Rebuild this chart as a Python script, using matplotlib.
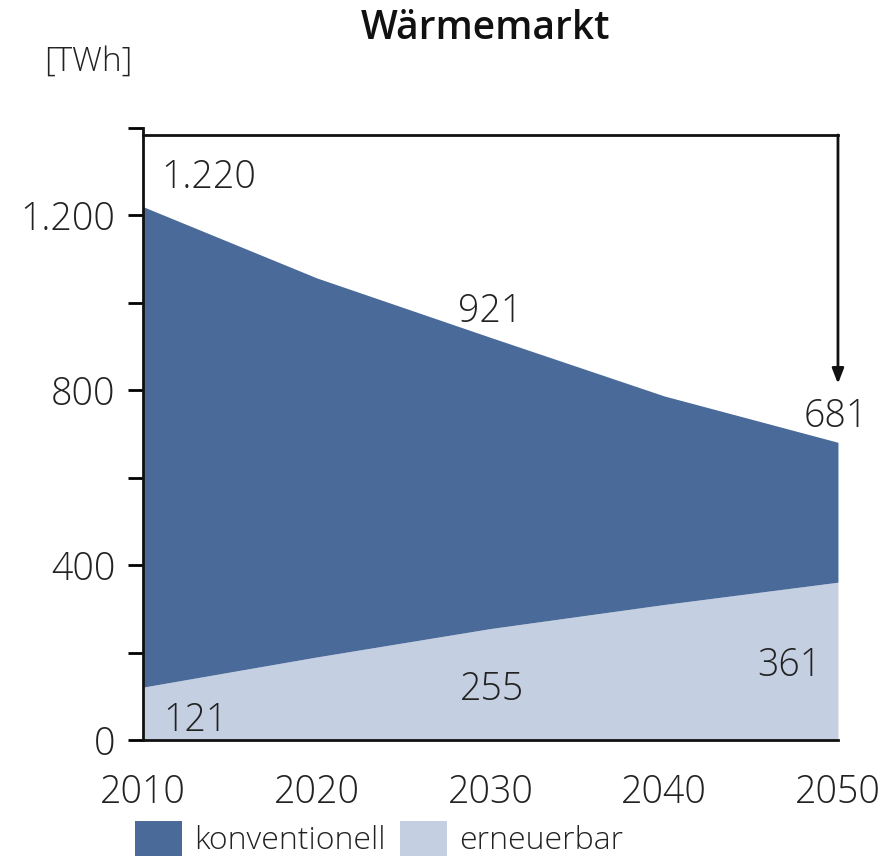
import matplotlib
matplotlib.use("Agg")
import matplotlib.pyplot as plt
from matplotlib.patches import Patch
from matplotlib.ticker import FixedLocator, FuncFormatter

plt.rcParams['font.family'] = ['Open Sans', 'DejaVu Sans']
plt.rcParams['font.weight'] = 300

# Daten (TWh)
jahre = [2010, 2020, 2030, 2040, 2050]
erneuerbar = [121, 190, 255, 310, 361]
gesamt = [1220, 1057, 921, 787, 681]
labels_gesamt = {2010: "1.220", 2030: "921", 2050: "681"}
labels_ern = {2010: "121", 2030: "255", 2050: "361"}

dunkel = '#4a6a9a'
hell = '#c4cfe1'
txt = '#222222'
fs = 27

fig = plt.figure(figsize=(8.83, 8.56), dpi=100)
ax = fig.add_axes([0.162, 0.1355, 0.787, 0.715])

ax.fill_between(jahre, 0, erneuerbar, color=hell, lw=0)
ax.fill_between(jahre, erneuerbar, gesamt, color=dunkel, lw=0)

ax.set_xlim(2010, 2050)
ax.set_ylim(0, 1400)
ax.set_xticks(jahre)
ax.yaxis.set_major_locator(FixedLocator([0, 400, 800, 1200]))
ax.yaxis.set_minor_locator(FixedLocator([200, 600, 1000, 1400]))
ax.yaxis.set_major_formatter(FuncFormatter(lambda v, p: f"{int(v):,}".replace(",", ".")))

for s in ['top', 'right']:
    ax.spines[s].set_visible(False)
for s in ['left', 'bottom']:
    ax.spines[s].set_linewidth(2)
    ax.spines[s].set_color('#111111')

ax.tick_params(axis='y', which='both', length=11, width=2, direction='out',
               labelsize=fs, labelcolor=txt, pad=9)
ax.tick_params(axis='x', length=0, labelsize=fs, labelcolor=txt, pad=24)

# Pfeil von oben auf den Wert 2050
ax.plot([2010, 2050], [1383, 1383], color='#111111', lw=2, clip_on=False)
ax.annotate('', xy=(2050, 815), xytext=(2050, 1384),
            arrowprops=dict(arrowstyle='-|>,head_length=0.9,head_width=0.35',
                            color='#111111', lw=2, shrinkA=0, shrinkB=0))

# Werte
ax.text(2013.8, 1285, labels_gesamt[2010], ha='center', va='center', fontsize=fs, color=txt)
ax.text(2030, 980, labels_gesamt[2030], ha='center', va='center', fontsize=fs, color=txt)
ax.text(2049.9, 740, labels_gesamt[2050], ha='center', va='center', fontsize=fs, color=txt)
ax.text(2013.0, 45, labels_ern[2010], ha='center', va='center', fontsize=fs, color=txt)
ax.text(2030.1, 115, labels_ern[2030], ha='center', va='center', fontsize=fs, color=txt)
ax.text(2047.2, 170, labels_ern[2050], ha='center', va='center', fontsize=fs, color=txt)

fig.text(0.55, 0.966, "Wärmemarkt", ha='center', va='center', fontsize=28,
         fontweight=600, color='#111111')
fig.text(0.05, 0.928, "[TWh]", ha='left', va='center', fontsize=24, color=txt)

handles = [Patch(facecolor=dunkel, edgecolor='none', label='konventionell'),
           Patch(facecolor=hell, edgecolor='none', label='erneuerbar')]
fig.legend(handles=handles, loc='center left', bbox_to_anchor=(0.146, 0.02), ncol=2,
           frameon=False, fontsize=23, handlelength=1.45, handleheight=1.3,
           handletextpad=0.4, columnspacing=0.45, labelcolor=txt,
           borderaxespad=0, borderpad=0.2)

fig.savefig('out.png', dpi=100)
